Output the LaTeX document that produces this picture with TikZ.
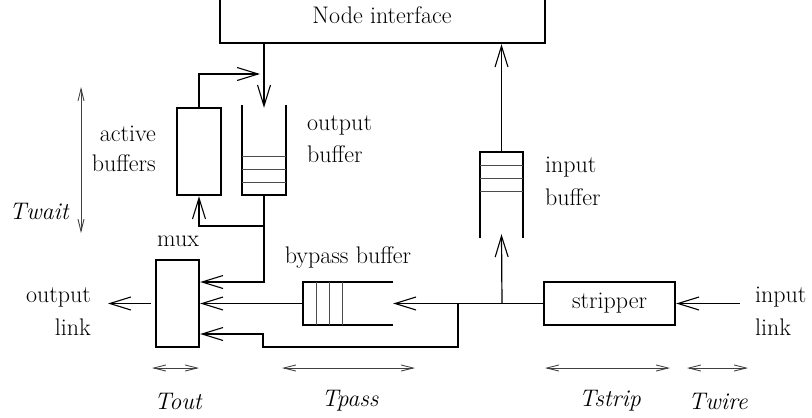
\documentclass[tikz,border=0pt]{standalone}
\usetikzlibrary{arrows.meta,calc}
\begin{document}
\begin{tikzpicture}[x=1pt,y=-1pt,
  every node/.style={font=\fontsize{24}{28}\selectfont, inner sep=0pt},
  box/.style={draw, line width=2.4pt, minimum width=#1},
  invis/.style={draw=none},
  conn/.style={line width=1.2pt, -{Straight Barb[length=21pt,width=13pt,line width=1.1pt]}},
  wall/.style={line width=2.4pt},
  slot/.style={line width=0.9pt, draw=black!70},
  dim/.style={line width=0.9pt, draw=black!75, {Straight Barb[length=12pt,width=6pt]}-{Straight Barb[length=12pt,width=6pt]}},
  lbl/.style={font=\fontsize{24}{28}\selectfont\itshape}]
\useasboundingbox (0,0) rectangle (812,418);
% node interface
\node[box=325pt, minimum height=63pt] (ni) at (382.5,11.5) {};
\node (nitext) at (382,15) {Node interface};
% active buffers
\node[box=44pt, minimum height=87pt] (ab) at (199,151.5) {};
% output buffer (open top)
\node[invis, minimum width=44pt, minimum height=90pt] (ob) at (264,150) {};
\draw[wall] (ob.north west) -- (ob.south west) -- (ob.south east) -- (ob.north east);
\foreach \yy in {156,169,182} \draw[slot] (242,\yy) -- (286,\yy);
% mux
\node[box=43pt, minimum height=87pt] (mux) at (177.5,303.5) {};
% bypass buffer (open right)
\node[invis, minimum width=90pt, minimum height=43pt] (bb) at (348,303.5) {};
\draw[wall] (bb.north east) -- (bb.north west) -- (bb.south west) -- (bb.south east);
\foreach \xx in {316,329,342} \draw[slot] (\xx,282) -- (\xx,325);
% input buffer (open bottom)
\node[invis, minimum width=43pt, minimum height=86pt] (ib) at (501.5,195) {};
\draw[wall] (ib.south west) -- (ib.north west) -- (ib.north east) -- (ib.south east);
\foreach \yy in {165,178,191} \draw[slot] (480,\yy) -- (523,\yy);
% stripper
\node[box=131pt, minimum height=43pt] (strip) at (609.5,303.5) {stripper};
% coordinates
\coordinate (c1) at (260,74);
\coordinate (jb) at (263,226);
\coordinate (j1) at (502,303.5);
\coordinate (j2) at (458,303.5);
\coordinate (l1) at (263,347);
\coordinate (inl) at (740,303.5);
\coordinate (outl) at (108,303.5);
% connectors
\draw[conn] (ni.south -| ob.north) -- ([yshift=-3pt]ob.north);
\draw[conn] (ab.north) |- (c1);
\draw[conn] (ob.south) |- ([yshift=21.5pt]mux.east);
\draw[conn] (jb) -| (ab.south);
\draw[conn] (bb.west) -- (mux.east);
\draw[conn] (strip.west) -- (bb.east);
\draw[conn] (j2) |- (l1) |- ([yshift=-30.5pt]mux.east);
\draw[conn] (j1) -- ([yshift=4pt]ib.south);
\draw[conn] (ib.north) -- (ni.south -| ib.north);
\draw[conn] (inl) -- (strip.east);
\draw[conn] ([xshift=-4pt]mux.west) -- (outl);
% Twait dimension
\coordinate (tw1) at (81,87);
\coordinate (tw2) at (81,233);
\draw[dim] (tw1) -- (tw2);
% bottom dimensions
\coordinate (d1a) at (152,368); \coordinate (d1b) at (199,368);
\coordinate (d2a) at (282,368); \coordinate (d2b) at (415,368);
\coordinate (d3a) at (545,368); \coordinate (d3b) at (670,368);
\coordinate (d4a) at (687,368); \coordinate (d4b) at (748,368);
\draw[dim] (d1a) -- (d1b);
\draw[dim] (d2a) -- (d2b);
\draw[dim] (d3a) -- (d3b);
\draw[dim] (d4a) -- (d4b);
% labels
\node[lbl] (ltwait) at (39,211) {Twait};
\node[anchor=east] (lact) at (156,134) {active};
\node[anchor=east] (lbuf) at (156,163) {buffers};
\node[anchor=west] (lob1) at (307,125) {output};
\node[anchor=west] (lob2) at (307,154) {buffer};
\node (lmux) at (178,241) {mux};
\node (lbb) at (348,258) {bypass buffer};
\node[anchor=west] (lib1) at (545,167) {input};
\node[anchor=west] (lib2) at (545,197) {buffer};
\node[anchor=west] (lil1) at (755,297) {input};
\node[anchor=west] (lil2) at (755,327) {link};
\node[anchor=east] (lol1) at (91,297) {output};
\node[anchor=east] (lol2) at (91,327) {link};
\node[lbl] (ltout) at (178,401) {Tout};
\node[lbl] (ltpass) at (350,401) {Tpass};
\node[lbl] (ltstrip) at (610,401) {Tstrip};
\node[lbl] (ltwire) at (718,401) {Twire};
\end{tikzpicture}
\end{document}
